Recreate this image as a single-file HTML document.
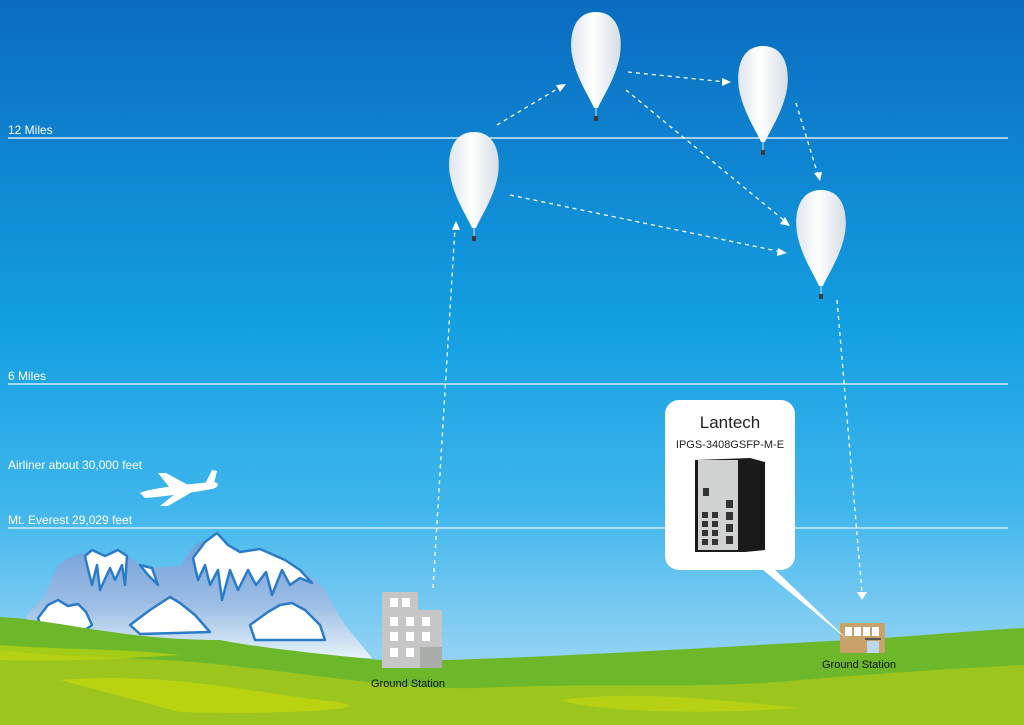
<!DOCTYPE html>
<html><head><meta charset="utf-8"><style>
html,body{margin:0;padding:0;width:1024px;height:725px;overflow:hidden}
svg{display:block}
text{font-family:"Liberation Sans",sans-serif}
</style></head><body>
<svg width="1024" height="725" viewBox="0 0 1024 725" xmlns="http://www.w3.org/2000/svg">
<defs>
<linearGradient id="sky" x1="0" y1="0" x2="0" y2="1">
<stop offset="0" stop-color="#0a6cc0"/>
<stop offset="0.45" stop-color="#139fe2"/>
<stop offset="0.7" stop-color="#3fb6ec"/>
<stop offset="0.9" stop-color="#8fd2f4"/>
</linearGradient>
<linearGradient id="mt" x1="0" y1="0" x2="0" y2="1">
<stop offset="0" stop-color="#6a9ad6"/>
<stop offset="0.6" stop-color="#9fc0e6"/>
<stop offset="1" stop-color="#e6f3fa"/>
</linearGradient>
<linearGradient id="bal" x1="0" y1="0" x2="1" y2="0">
<stop offset="0" stop-color="#dfe6ec"/>
<stop offset="0.45" stop-color="#ffffff"/>
<stop offset="1" stop-color="#d5dde4"/>
</linearGradient>
<g id="b">
<path d="M0,-48 C22,-48 27,-25 24,-5 C20,18 6,38 2,48 L-2,48 C-6,38 -20,18 -24,-5 C-27,-25 -22,-48 0,-48Z" fill="url(#bal)"/>
<line x1="0" y1="48" x2="0" y2="56" stroke="#ddd" stroke-width="1"/>
<rect x="-2" y="56" width="4" height="5" fill="#3a3a3a"/>
</g>
</defs>
<rect width="1024" height="725" fill="url(#sky)"/>
<g stroke="#cfeaf8" stroke-width="1.5">
<line x1="8" y1="138" x2="1008" y2="138"/>
<line x1="8" y1="384" x2="1008" y2="384"/>
<line x1="8" y1="528" x2="1008" y2="528"/>
</g>
<g fill="#fff" font-size="12">
<text x="8" y="134">12 Miles</text>
<text x="8" y="380">6 Miles</text>
<text x="8" y="469">Airliner about 30,000 feet</text>
<text x="8" y="524">Mt. Everest 29,029 feet</text>
</g>
<!-- airplane -->
<g fill="#fff">
<path d="M140,493 C150,488 190,484 212,482 C220,482 220,487 212,489 C190,493 160,497 145,498Z"/>
<path d="M170,488 L158,473 L166,473 L190,486Z"/>
<path d="M175,494 L160,506 L168,506 L192,492Z"/>
<path d="M205,484 L212,470 L217,471 L214,484Z"/>
</g>
<!-- mountains -->
<path d="M27,615 L45,595 L58,565 L75,555 L90,552 L105,556 L118,550 L130,558 L145,568 L165,567 L180,566 L195,545 L210,538 L217,532 L228,545 L240,552 L260,549 L280,556 L300,570 L315,580 L325,590 L335,608 L345,625 L372,658 L27,650Z" fill="url(#mt)"/>
<g fill="#fff" stroke="#2a7cc8" stroke-width="2.5" stroke-linejoin="round">
<path d="M85,556 L92,550 L105,556 L118,550 L127,556 L125,585 L122,565 L115,580 L110,568 L100,590 L97,565 L92,585 L87,565Z"/>
<path d="M140,565 L148,575 L158,585 L152,568Z"/>
<path d="M193,558 L205,542 L217,533 L228,545 L240,552 L260,549 L285,560 L300,570 L312,583 L300,578 L290,585 L282,570 L272,595 L266,572 L256,585 L248,570 L238,590 L230,570 L222,600 L218,570 L210,585 L205,565 L198,580Z"/>
</g>
<g fill="#fff" stroke="#2a7cc8" stroke-width="2.5" stroke-linejoin="round">
<path d="M38,618 L48,605 L58,600 L68,606 L78,604 L86,612 L92,625 L85,630 L42,630Z"/>
<path d="M130,625 L150,610 L170,597 L180,603 L195,615 L210,632 L140,634Z"/>
<path d="M250,625 L268,612 L280,605 L292,603 L305,610 L320,625 L325,640 L255,640Z"/>
</g>
<!-- grass -->
<path d="M0,617 C60,620 120,640 220,640 C260,648 330,655 380,660 L450,660 C600,655 750,645 850,640 C920,636 980,630 1024,628 L1024,725 L0,725Z" fill="#6cb82a"/>
<path d="M0,650 C80,660 150,655 250,668 C320,675 400,690 480,688 C600,682 700,690 800,680 C900,672 960,668 1024,665 L1024,725 L0,725Z" fill="#9cc61e"/>
<path d="M0,645 C60,650 120,648 180,655 C100,660 40,662 0,660Z" fill="#c8d80c" opacity="0.6"/>
<path d="M60,680 C160,672 240,690 320,700 C400,708 300,715 180,712Z" fill="#c8d80c" opacity="0.7"/>
<path d="M560,700 C640,690 720,700 800,708 C700,715 600,712 560,700Z" fill="#c8d80c" opacity="0.6"/>
<!-- balloons -->
<use href="#b" x="474" y="180"/>
<use href="#b" x="596" y="60"/>
<use href="#b" x="763" y="94"/>
<use href="#b" x="821" y="238"/>
<!-- arrows -->
<g stroke="#fff" stroke-width="1.3" stroke-dasharray="4,4" fill="none">
<line x1="497" y1="125" x2="562" y2="86"/>
<line x1="628" y1="72" x2="726" y2="82"/>
<line x1="626" y1="90" x2="786" y2="222"/>
<line x1="510" y1="195" x2="782" y2="252"/>
<line x1="796" y1="103" x2="818" y2="175"/>
<line x1="433" y1="588" x2="455" y2="228"/>
<line x1="837" y1="300" x2="862" y2="593"/>
</g>
<g fill="#fff">
<polygon points="566,84 556,85 560,92"/>
<polygon points="731,82 722,78 722,86"/>
<polygon points="790,226 780,224 785,217"/>
<polygon points="787,253 778,248 777,256"/>
<polygon points="820,181 814,173 822,172"/>
<polygon points="456,221 452,230 460,230"/>
<polygon points="862,600 857,592 867,592"/>
</g>
<!-- left building -->
<rect x="382" y="592" width="36" height="76" fill="#c6c6c6"/>
<rect x="418" y="610" width="24" height="58" fill="#c6c6c6"/>
<rect x="420" y="647" width="22" height="21" fill="#a9aca8"/>
<g fill="#fff">
<rect x="390" y="598" width="8" height="9"/><rect x="402" y="598" width="8" height="9"/>
<rect x="390" y="617" width="8" height="9"/><rect x="406" y="617" width="8" height="9"/><rect x="422" y="617" width="8" height="9"/>
<rect x="390" y="632" width="8" height="9"/><rect x="406" y="632" width="8" height="9"/><rect x="422" y="632" width="8" height="9"/>
<rect x="390" y="648" width="8" height="9"/><rect x="406" y="648" width="8" height="9"/>
</g>
<text x="371" y="687" font-size="11" fill="#111">Ground Station</text>
<!-- right building -->
<rect x="840" y="623" width="45" height="30" fill="#c9a26a"/>
<g fill="#fff"><rect x="845" y="627" width="7" height="9"/><rect x="854" y="627" width="7" height="9"/><rect x="863" y="627" width="7" height="9"/><rect x="872" y="627" width="7" height="9"/></g>
<rect x="867" y="641" width="12" height="12" fill="#bcd8ef"/>
<rect x="865" y="638" width="16" height="2" fill="#555"/>
<text x="822" y="668" font-size="11" fill="#111">Ground Station</text>
<!-- callout -->
<path d="M757,565 L848,640 L770,565Z" fill="#fff"/>
<rect x="665" y="400" width="130" height="170" rx="14" fill="#fff"/>
<text x="730" y="428" font-size="17" text-anchor="middle" fill="#222">Lantech</text>
<text x="730" y="448" font-size="11" text-anchor="middle" fill="#222">IPGS-3408GSFP-M-E</text>
<polygon points="695,460 750,458 765,462 765,550 745,552 695,552" fill="#1a1a1a"/>
<rect x="698" y="460" width="40" height="90" fill="#cfd2d0"/>
<g fill="#333">
<rect x="702" y="512" width="6" height="6"/><rect x="712" y="512" width="6" height="6"/>
<rect x="702" y="521" width="6" height="6"/><rect x="712" y="521" width="6" height="6"/>
<rect x="702" y="530" width="6" height="6"/><rect x="712" y="530" width="6" height="6"/>
<rect x="702" y="539" width="6" height="6"/><rect x="712" y="539" width="6" height="6"/>
<rect x="726" y="500" width="7" height="8"/><rect x="726" y="512" width="7" height="8"/><rect x="726" y="524" width="7" height="8"/><rect x="726" y="536" width="7" height="8"/>
<rect x="703" y="488" width="6" height="8"/>
</g>
</svg>
</body></html>
